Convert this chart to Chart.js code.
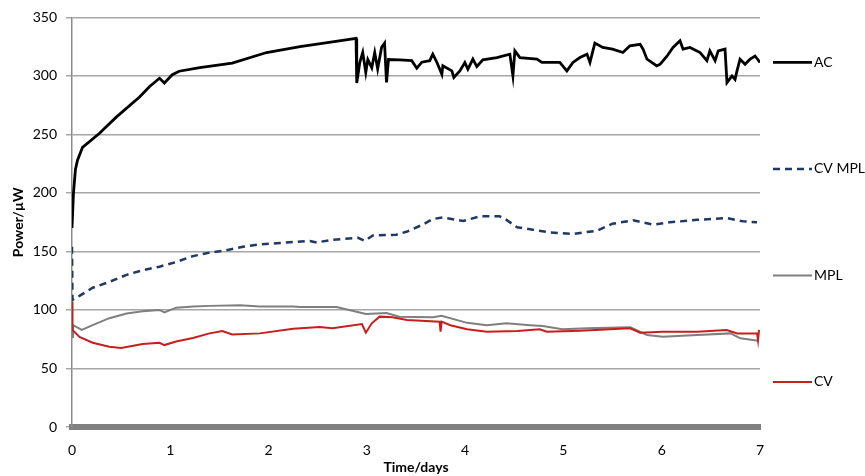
<!DOCTYPE html>
<html>
<head>
<meta charset="utf-8">
<script src="https://cdn.jsdelivr.net/npm/chart.js@4.4.0/dist/chart.umd.min.js"></script>
<style>
  html, body { margin: 0; padding: 0; background: #fff; }
  #wrap { width: 865px; height: 476px; }
</style>
</head>
<body>
<div id="wrap"><canvas id="chart" width="865" height="476"></canvas></div>
<script>
// values (time in days, power in µW)
const acDays = [0, 0.015, 0.035, 0.056, 0.107, 0.28, 0.453, 0.687, 0.79, 0.89, 0.94, 1.02, 1.09, 1.30, 1.63, 1.98, 2.32, 2.65, 2.89,
  2.897, 2.928, 2.958, 2.989, 3.01, 3.05, 3.08, 3.11, 3.15, 3.18, 3.20, 3.22, 3.335, 3.457, 3.508, 3.559, 3.64, 3.671, 3.712, 3.763,
  3.773, 3.865, 3.885, 3.946, 3.997, 4.028, 4.079, 4.119, 4.18, 4.323, 4.455, 4.486, 4.506, 4.557, 4.73, 4.781, 4.862,
  4.963, 5.035, 5.097, 5.168, 5.24, 5.27, 5.32, 5.40, 5.50, 5.605, 5.677, 5.78, 5.81, 5.85, 5.95, 5.985, 6.055, 6.115, 6.186, 6.217,
  6.288, 6.39, 6.46, 6.49, 6.543, 6.575, 6.644, 6.664, 6.715, 6.746, 6.766, 6.797, 6.848, 6.899, 6.95, 7.0];
const acPower = [170, 200, 220, 228, 239, 251, 265, 282, 291, 298, 294, 301, 304, 307, 311, 320, 325, 329, 332,
  294, 311.5, 320, 303, 314, 307, 320, 306, 324.5, 328, 294.5, 314, 313.7, 313, 306.6, 311.7, 313, 318.6, 311.7, 301.4,
  308.6, 304.3, 298.6, 304.3, 311.5, 305.7, 314.3, 308, 313.7, 315.7, 318.6, 300, 321.4, 315.7, 314.3, 311.5, 311.5,
  311.5, 304.3, 311.5, 315.7, 318.6, 311.5, 328, 324.3, 322.9, 320, 325.7, 327, 322.9, 314.3, 308.6, 310, 317, 324.3, 330, 322.9,
  324.3, 320, 313, 321.4, 313, 321.4, 322.9, 294.3, 300, 297, 304.3, 314.3, 310, 314.3, 317, 311.5];

const cvmplDays = [0, 0.005, 0.076, 0.21, 0.38, 0.555, 0.72, 0.89, 1.06, 1.23, 1.40, 1.57, 1.74, 1.91, 2.08, 2.25, 2.42, 2.49, 2.65, 2.91, 2.98, 3.06, 3.30, 3.41, 3.57, 3.67, 3.77, 3.98, 4.15, 4.35, 4.42, 4.53, 4.69, 4.86, 5.10, 5.34, 5.50, 5.71, 5.91, 6.08, 6.36, 6.66, 6.83, 6.97];
const cvmplPower = [154, 108.6, 112, 119, 124, 130, 134, 137, 141, 146, 149, 151, 154, 156, 157, 158, 159, 157.7, 160, 161.7, 159, 163.7, 164.3, 167, 173, 177.7, 179, 176, 180, 180, 177, 170.6, 168.6, 166.3, 165, 167.7, 173.7, 176.6, 172.9, 174.9, 177, 178.6, 175.7, 174.9];

const mplDays = [0, 0.01, 0.10, 0.21, 0.38, 0.555, 0.72, 0.89, 0.94, 1.06, 1.23, 1.40, 1.71, 1.91, 2.25, 2.32, 2.52, 2.69, 2.82, 2.99, 3.20, 3.33, 3.67, 3.76, 4.02, 4.22, 4.42, 4.66, 4.79, 4.99, 5.24, 5.68, 5.85, 6.01, 6.36, 6.70, 6.80, 6.98];
const mplPower = [77, 87, 83, 87, 93, 97, 99, 100, 98, 102, 103, 103.5, 104, 103, 103, 102.6, 102.5, 102.6, 100, 96.6, 97.4, 94.3, 93.7, 95, 89, 87, 88.6, 87, 86.3, 83.5, 84.3, 85.2, 78.6, 77.1, 78.6, 80, 75.8, 73.7];

const cvDays = [0, 0.005, 0.076, 0.21, 0.38, 0.50, 0.72, 0.89, 0.94, 1.06, 1.23, 1.40, 1.53, 1.63, 1.91, 2.25, 2.52, 2.65, 2.95, 2.99, 3.05, 3.13, 3.26, 3.41, 3.74, 3.75, 3.76, 3.85, 4.02, 4.22, 4.53, 4.76, 4.83, 5.17, 5.68, 5.78, 6.01, 6.36, 6.66, 6.77, 6.97, 6.98, 6.99];
const cvPower = [107, 83, 77, 72, 68.5, 67.5, 71, 72, 70, 73, 76, 80, 82, 79, 80, 84, 85.5, 84.3, 88, 80.6, 88.6, 94.3, 93.7, 91.4, 90, 81.4, 90, 87, 83.5, 81.4, 82, 83.5, 81.4, 82.3, 84.3, 80.6, 81.4, 81.4, 82.9, 80, 80, 74, 83];

const xTicks = [0, 1, 2, 3, 4, 5, 6, 7];
const yTicks = [0, 50, 100, 150, 200, 250, 300, 350];
const legendOrder = ['AC', 'CV MPL', 'MPL', 'CV'];

const pts = (xs, ys) => xs.map((x, i) => ({ x: x, y: ys[i] }));
const FONT = 'Lato, "Open Sans", sans-serif';

// Excel style legend down the right hand side
const sideLegend = {
  id: 'sideLegend',
  afterDraw(chart) {
    const { ctx, chartArea } = chart;
    const mid = (chartArea.top + chartArea.bottom) / 2;
    const gap = (chartArea.bottom - chartArea.top) * 0.26;
    legendOrder.forEach((name, i) => {
      const ds = chart.data.datasets.find(d => d.label === name);
      const y = mid + (i - (legendOrder.length - 1) / 2) * gap;
      const x0 = chartArea.right + 13;
      ctx.save();
      ctx.strokeStyle = ds.borderColor;
      ctx.lineWidth = ds.borderWidth;
      ctx.setLineDash(ds.borderDash || []);
      ctx.beginPath();
      ctx.moveTo(x0, y);
      ctx.lineTo(x0 + 39, y);
      ctx.stroke();
      ctx.setLineDash([]);
      ctx.fillStyle = '#000';
      ctx.font = '14px ' + FONT;
      ctx.textBaseline = 'middle';
      ctx.fillText(name, x0 + 41, y);
      ctx.restore();
    });
  }
};

new Chart(document.getElementById('chart'), {
  type: 'line',
  data: {
    datasets: [
      { label: 'AC', data: pts(acDays, acPower), borderColor: '#000000', borderWidth: 2.8 },
      { label: 'CV', data: pts(cvDays, cvPower), borderColor: '#c81e1e', borderWidth: 2 },
      { label: 'MPL', data: pts(mplDays, mplPower), borderColor: '#7f7f7f', borderWidth: 2 },
      { label: 'CV MPL', data: pts(cvmplDays, cvmplPower), borderColor: '#1f3864', borderWidth: 2.5, borderDash: [7, 5] }
    ]
  },
  options: {
    responsive: false,
    animation: false,
    elements: {
      point: { radius: 0 },
      line: { tension: 0 }
    },
    layout: { padding: { top: 12, right: 105, left: 0, bottom: 0 } },
    plugins: {
      legend: { display: false },
      tooltip: { enabled: false }
    },
    scales: {
      x: {
        type: 'linear',
        min: 0,
        max: 7,
        afterBuildTicks: s => { s.ticks = xTicks.map(v => ({ value: v })); },
        afterFit: s => { s.height = 49; },
        grid: { display: false },
        border: { display: true, color: '#808080', width: 6 },
        ticks: { color: '#000', padding: 7, font: { family: FONT, size: 14 } },
        title: { display: true, text: 'Time/days', color: '#000', padding: { top: 0, bottom: 0 }, font: { family: FONT, size: 14, weight: 'bold' } }
      },
      y: {
        min: 0,
        max: 350,
        afterBuildTicks: s => { s.ticks = yTicks.map(v => ({ value: v })); },
        afterFit: s => { s.width = 72; },
        grid: { color: '#a6a6a6', lineWidth: 1.5, tickLength: 6, drawTicks: true },
        border: { display: true, color: '#8c8c8c', width: 1.5 },
        ticks: { color: '#000', padding: 9, font: { family: FONT, size: 14 } },
        title: { display: true, text: 'Power/µW', color: '#000', padding: { top: 10, bottom: 0 }, font: { family: FONT, size: 14, weight: 'bold' } }
      }
    }
  },
  plugins: [sideLegend]
});
</script>
</body>
</html>
